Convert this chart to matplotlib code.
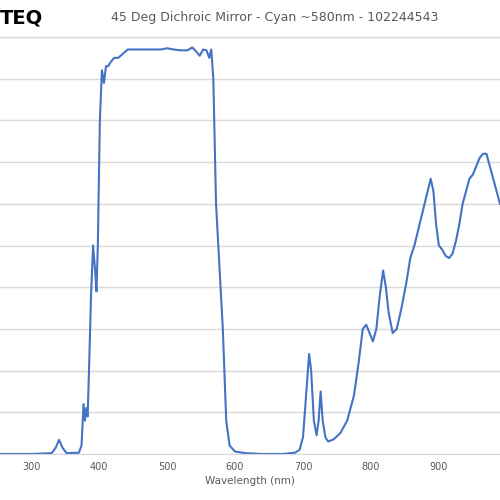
import matplotlib.pyplot as plt

wavelength = [254, 300, 330, 336, 341, 346, 352, 370, 374, 377, 379, 381, 383, 385, 388, 391, 394, 396, 398, 401, 404, 407, 410, 413, 417, 422, 428, 435, 442, 450, 460, 470, 480, 490, 500, 510, 520, 530, 537, 543, 548, 553, 558, 562, 565, 568, 572, 577, 582, 587, 592, 600, 615, 640, 670, 688, 695, 700, 705, 709, 712, 716, 720, 723, 726, 729, 733, 737, 745, 755, 765, 775, 782, 788, 793, 798, 803, 808, 813, 818, 822, 826, 832, 838, 845, 852, 858, 864, 870, 876, 882, 888, 892, 896, 900, 905, 910, 915, 920, 925, 930, 935, 940, 945, 950, 955, 960, 965, 970, 975, 980, 985, 990]
transmission = [0, 0, 0.2, 1.5, 3.4, 1.5, 0.2, 0.3, 2, 12, 8, 11, 9, 20, 38, 50, 44, 39, 50, 80, 92, 89, 93, 93, 94, 95, 95, 96, 97, 97, 97, 97, 97, 97, 97.3, 97, 96.8, 96.8, 97.5, 96.5, 95.5, 97, 96.8, 95, 97, 90, 60, 45, 30, 8, 2, 0.6, 0.2, 0, 0, 0.3, 1, 4, 15, 24, 20, 8, 4.5, 8, 15, 8, 4, 3, 3.5, 5, 8, 14, 22, 30, 31, 29, 27, 30, 38, 44, 40, 34, 29, 30, 35, 41, 47, 50, 54, 58, 62, 66, 63, 55, 50, 49, 47.5, 47, 48, 51, 55, 60, 63, 66, 67, 69, 71, 72, 72, 69, 66, 63, 60]

fig = plt.figure(figsize=(5, 5), dpi=100)
ax = fig.add_axes([0, 0.092, 1, 0.834])
ax.plot(wavelength, transmission, color='#4472C4', linewidth=1.5)
ax.set_xlim(254, 990)
ax.set_ylim(0, 100)
ax.set_xticks(range(300, 1000, 100))
ax.set_yticks(range(0, 101, 10))
ax.set_yticklabels([])
ax.grid(axis='y', color='#d9d9d9', linewidth=1)
ax.tick_params(length=0, labelsize=7, colors='#595959', pad=6)
for s in ['top', 'left', 'right']:
    ax.spines[s].set_visible(False)
ax.spines['bottom'].set_color('#d9d9d9')
ax.set_axisbelow(True)
ax.set_xlabel('Wavelength (nm)', fontsize=7.5, color='#595959', labelpad=3)

fig.text(0.0, 0.964, 'TEQ', fontsize=14, fontweight='bold', va='center', ha='left')
fig.text(0.55, 0.964, '45 Deg Dichroic Mirror - Cyan ~580nm - 102244543',
         fontsize=9, color='#595959', va='center', ha='center')
fig.add_artist(plt.Line2D([0, 1], [0.926, 0.926], color='#d9d9d9', linewidth=1))

fig.savefig('out.png')
